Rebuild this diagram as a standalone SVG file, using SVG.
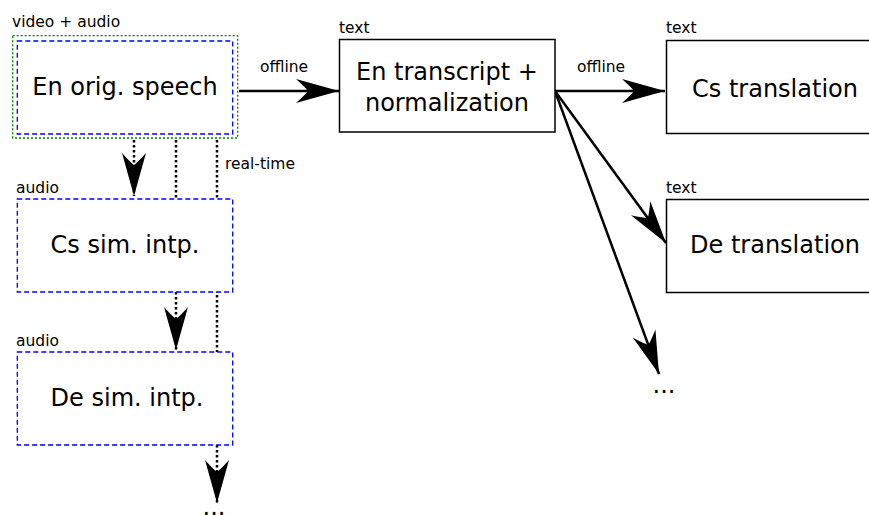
<svg xmlns="http://www.w3.org/2000/svg" width="869" height="515" viewBox="0 0 869 515">
  <style>
    .big { font-family: "DejaVu Sans", sans-serif; font-size: 24px; fill: #000; }
    .small { font-family: "DejaVu Sans", sans-serif; font-size: 15.5px; fill: #000; }
    .solidbox { fill: #fff; stroke: #000; stroke-width: 1.5; }
    .audiobox { fill: #fff; stroke: #0000ff; stroke-width: 1.3; stroke-dasharray: 5 3; }
    .avbox { fill: none; stroke: #008000; stroke-width: 1.3; stroke-dasharray: 2 2; }
    .solid { stroke: #000; stroke-width: 2.5; fill: none; }
    .dotted { stroke: #000; stroke-width: 2.5; fill: none; stroke-dasharray: 2.5 2.5; }
  </style>
  <defs>
    <!-- concave arrowhead, drawn in canvas units -->
    <marker id="head" markerUnits="userSpaceOnUse" viewBox="-44 -13 46 26" refX="0" refY="0" markerWidth="46" markerHeight="26" orient="auto">
      <path d="M 0 0 L -43 -12 Q -33 -3 -31 0 Q -33 3 -43 12 Z" fill="#000"/>
    </marker>
  </defs>

  <rect width="869" height="515" fill="#fff"/>

  <g id="connectors">
    <line class="solid" x1="239" y1="91" x2="339" y2="91" marker-end="url(#head)"/>
    <line class="solid" x1="555" y1="91" x2="665" y2="91" marker-end="url(#head)"/>
    <line class="solid" x1="555" y1="91" x2="666" y2="243" marker-end="url(#head)"/>
    <line class="solid" x1="555" y1="91" x2="659" y2="374" marker-end="url(#head)"/>
    <line class="dotted" x1="134" y1="140" x2="134" y2="196" marker-end="url(#head)"/>
    <line class="dotted" x1="176" y1="140" x2="176" y2="199"/>
    <line class="dotted" x1="217" y1="140" x2="217" y2="352"/>
    <line class="dotted" x1="176" y1="292" x2="176" y2="350" marker-end="url(#head)"/>
    <line class="dotted" x1="217" y1="445" x2="217" y2="503" marker-end="url(#head)"/>
    <text class="small" x="260" y="72">offline</text>
    <text class="small" x="577" y="72">offline</text>
    <text class="small" x="225" y="169">real-time</text>
    <text class="big" x="214" y="515" text-anchor="middle">...</text>
    <text class="big" x="664" y="393" text-anchor="middle">...</text>
  </g>

  <g id="en-orig-speech">
    <text class="small" x="12" y="27">video + audio</text>
    <rect class="avbox" x="12.7" y="35.7" width="225" height="102.3"/>
    <rect class="audiobox" x="17.3" y="41" width="215.4" height="93"/>
    <text class="big" x="125" y="95" text-anchor="middle">En orig. speech</text>
  </g>

  <g id="cs-sim-intp">
    <text class="small" x="16" y="193">audio</text>
    <rect class="audiobox" x="17.3" y="199" width="215.4" height="93"/>
    <text class="big" x="125" y="253" text-anchor="middle">Cs sim. intp.</text>
  </g>

  <g id="de-sim-intp">
    <text class="small" x="16" y="346">audio</text>
    <rect class="audiobox" x="17.3" y="352" width="215.4" height="93"/>
    <text class="big" x="127" y="406" text-anchor="middle">De sim. intp.</text>
  </g>

  <g id="en-transcript">
    <text class="small" x="339" y="33">text</text>
    <rect class="solidbox" x="339.5" y="39.5" width="215.5" height="92.5"/>
    <text class="big" x="447" y="80" text-anchor="middle">En transcript +</text>
    <text class="big" x="447" y="111" text-anchor="middle">normalization</text>
  </g>

  <g id="cs-translation">
    <text class="small" x="666" y="33">text</text>
    <rect class="solidbox" x="666.5" y="40.5" width="215" height="93"/>
    <text class="big" x="775" y="97" text-anchor="middle">Cs translation</text>
  </g>

  <g id="de-translation">
    <text class="small" x="666" y="193">text</text>
    <rect class="solidbox" x="666.5" y="199.5" width="215" height="93"/>
    <text class="big" x="775" y="253" text-anchor="middle">De translation</text>
  </g>
</svg>
